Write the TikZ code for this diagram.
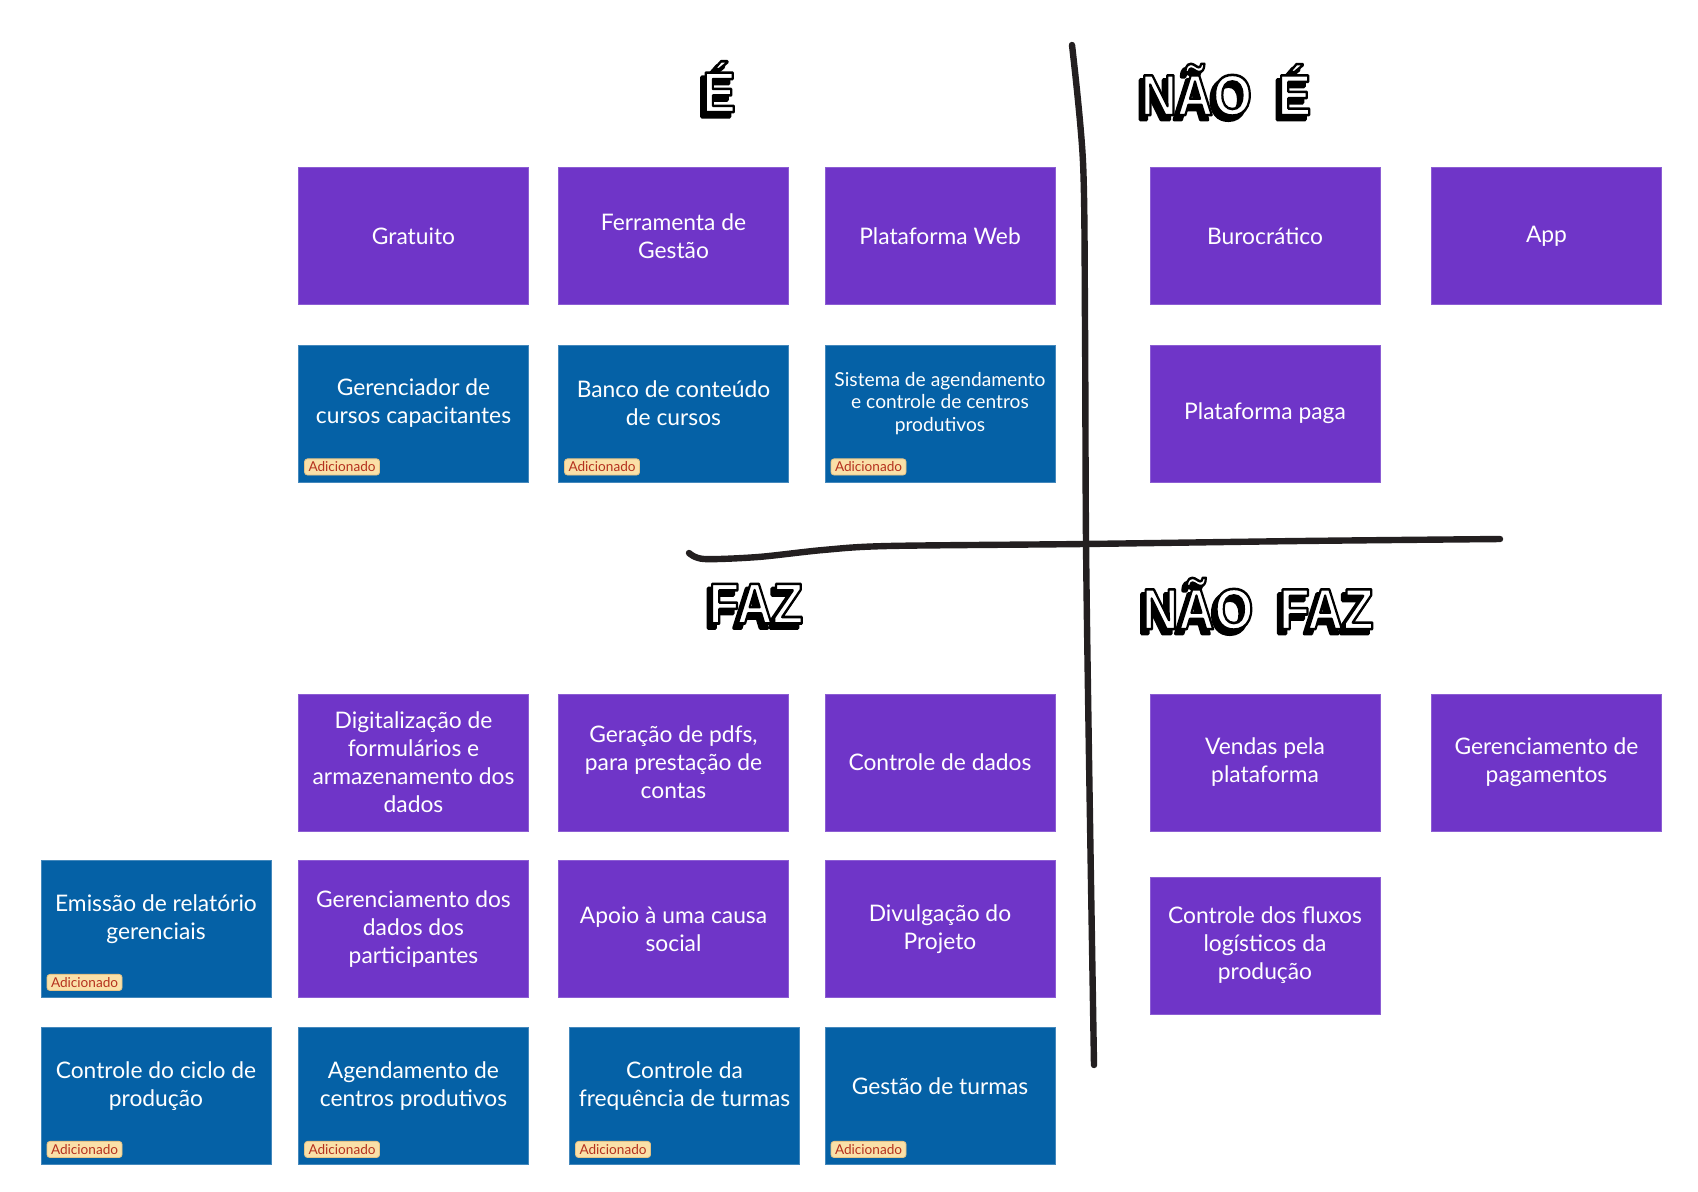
\documentclass[tikz,border=0pt]{standalone}
\usepackage{fontspec}
\setmainfont{Lato}
\newfontfamily\headfont{Liberation Sans}
\usetikzlibrary{positioning}

\definecolor{ideia}{HTML}{6F35C8}
\definecolor{funcao}{HTML}{0561A6}
\definecolor{selofundo}{HTML}{FAE0A8}
\definecolor{selolinha}{HTML}{E6C385}
\definecolor{selotexto}{HTML}{B5311E}
\definecolor{tinta}{HTML}{231F20}

\tikzset{
  card/.style={minimum width=115pt, minimum height=68.5pt, inner sep=0pt, text=white,
    align=center, font=\fontsize{11.4}{14}\selectfont, line width=0.4pt},
  roxo/.style={card, fill=ideia, draw=ideia!80!white},
  azul/.style={card, fill=funcao, draw=funcao!75!white},
  texto/.style={text=white, align=center, font=\fontsize{11.4}{14}\selectfont, inner sep=0pt},
  selo/.style={fill=selofundo, draw=selolinha, rounded corners=1.5pt, text=selotexto,
    font=\fontsize{6.8}{7}\selectfont, inner xsep=2pt, inner ysep=1.5pt},
  head/.style={font=\headfont\bfseries\fontsize{25}{25}\selectfont, inner sep=0pt, text=white},
  risco/.style={line width=3.2pt, draw=tinta, line cap=round, line join=round}
}

% letra vazada: preenche e contorna de preto
\newcommand\contorno[2]{\special{pdf:literal direct 2 Tr #1 w 0 0 0 RG 1 j}#2\special{pdf:literal direct 0 Tr 1 w}}
% letreiro com sombra preta embaixo a esquerda
\newcommand\letreiro[3]{%
  \node[head] (#1) at (#2) {\scalebox{1}[1.15]{%
    \makebox[0pt][l]{\hspace{-2pt}\raisebox{-2pt}{\color{black}\contorno{1.6}{#3}}}%
    \contorno{1.1}{#3}}};
}

\begin{document}
\begin{tikzpicture}[x=0.5pt, y=-0.5pt]
  \useasboundingbox (0,0) rectangle (1698,1191);

  % riscos a mao
  \draw[risco] plot[smooth] coordinates {(1072,45) (1083,162) (1085,325) (1086,541) (1089,758) (1094,1065)};
  \draw[risco] plot[smooth] coordinates {(689,553) (704,559) (758,557) (823,550) (888,546) (1083,544) (1300,541) (1500,539)};

  % titulos
  \letreiro{e}{719,89}{É}
  \letreiro{naoe}{1226,92}{NÃO\hspace{6pt} É}
  \letreiro{faz}{756,606}{FAZ}
  \letreiro{naofaz}{1258,606}{NÃO\hspace{6pt} FAZ}

  % É
  \node[roxo] (gratuito) at (413.5,236) {Gratuito};
  \node[roxo] (ferramenta) at (673.5,236) {Ferramenta de\\Gestão};
  \node[roxo] (web) at (940,236) {Plataforma Web};

  \node[azul] (cursos) at (413.5,413.5) {};
  \node[texto] (cursos-txt) at ([yshift=5pt]cursos.center) {Gerenciador de\\cursos capacitantes};
  \node[selo, above right=3.5pt and 3pt of cursos.south west] (cursos-selo) {Adicionado};

  \node[azul] (banco) at (673.5,413.5) {};
  \node[texto] (banco-txt) at ([yshift=5pt]banco.center) {Banco de conteúdo\\de cursos};
  \node[selo, above right=3.5pt and 3pt of banco.south west] (banco-selo) {Adicionado};

  \node[azul] (sistema) at (940,413.5) {};
  \node[texto, font=\fontsize{9.6}{11.1}\selectfont] (sistema-txt) at ([yshift=5pt]sistema.center) {Sistema de agendamento\\e controle de centros\\produtivos};
  \node[selo, above right=3.5pt and 3pt of sistema.south west] (sistema-selo) {Adicionado};

  % NÃO É
  \node[roxo] (burocratico) at (1265,236) {Burocrático};
  \node[roxo] (app) at (1546.5,236) {App};
  \node[roxo] (paga) at (1265,413.5) {Plataforma paga};

  % FAZ
  \node[roxo] (digitalizacao) at (413.5,762.5) {Digitalização de\\formulários e\\armazenamento dos\\dados};
  \node[roxo] (pdfs) at (673.5,762.5) {Geração de pdfs,\\para prestação de\\contas};
  \node[roxo] (dados) at (940,762.5) {Controle de dados};

  \node[azul] (relatorio) at (156,929) {};
  \node[texto] (relatorio-txt) at ([yshift=5pt]relatorio.center) {Emissão de relatório\\gerenciais};
  \node[selo, above right=3.5pt and 3pt of relatorio.south west] (relatorio-selo) {Adicionado};

  \node[roxo] (participantes) at (413.5,929) {Gerenciamento dos\\dados dos\\participantes};
  \node[roxo] (causa) at (673.5,929) {Apoio à uma causa\\social};
  \node[roxo] (divulgacao) at (940,929) {Divulgação do\\Projeto};

  \node[azul] (ciclo) at (156,1096) {};
  \node[texto] (ciclo-txt) at ([yshift=5pt]ciclo.center) {Controle do ciclo de\\produção};
  \node[selo, above right=3.5pt and 3pt of ciclo.south west] (ciclo-selo) {Adicionado};

  \node[azul] (agendamento) at (413.5,1096) {};
  \node[texto] (agendamento-txt) at ([yshift=5pt]agendamento.center) {Agendamento de\\centros produtivos};
  \node[selo, above right=3.5pt and 3pt of agendamento.south west] (agendamento-selo) {Adicionado};

  \node[azul] (frequencia) at (684.5,1096) {};
  \node[texto] (frequencia-txt) at ([yshift=5pt]frequencia.center) {Controle da\\frequência de turmas};
  \node[selo, above right=3.5pt and 3pt of frequencia.south west] (frequencia-selo) {Adicionado};

  \node[azul] (turmas) at (940,1096) {};
  \node[texto] (turmas-txt) at ([yshift=5pt]turmas.center) {Gestão de turmas};
  \node[selo, above right=3.5pt and 3pt of turmas.south west] (turmas-selo) {Adicionado};

  % NÃO FAZ
  \node[roxo] (vendas) at (1265,762.5) {Vendas pela\\plataforma};
  \node[roxo] (pagamentos) at (1546.5,762.5) {Gerenciamento de\\pagamentos};
  \node[roxo] (fluxos) at (1265,945.5) {Controle dos fluxos\\logísticos da\\produção};
\end{tikzpicture}
\end{document}
